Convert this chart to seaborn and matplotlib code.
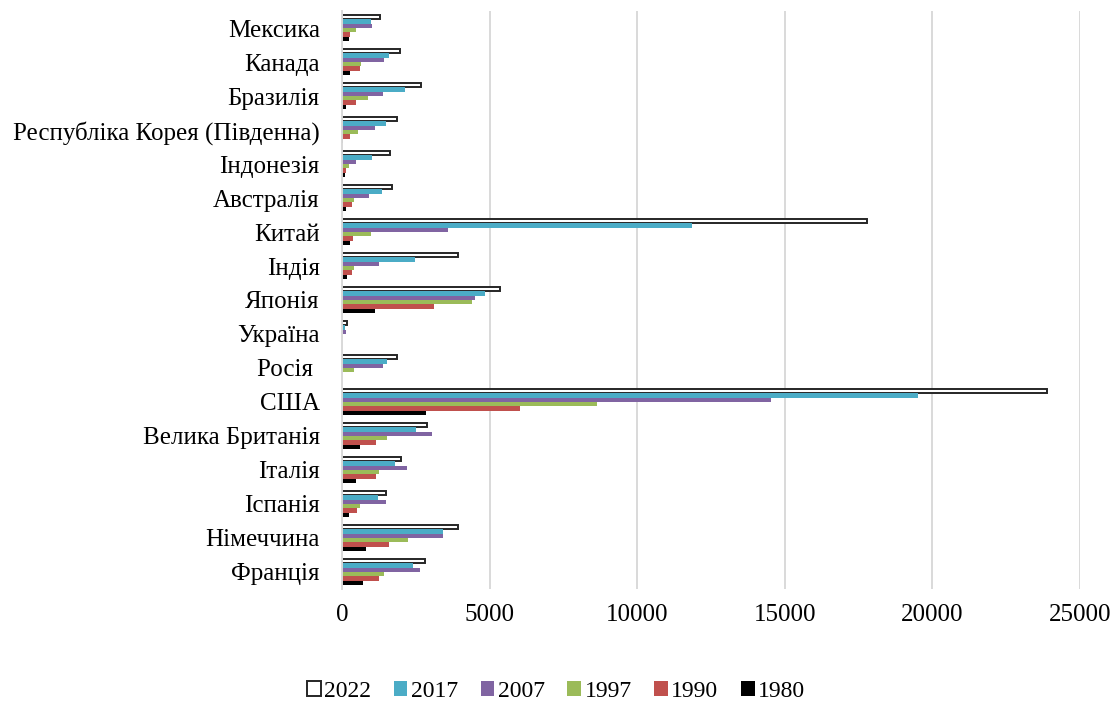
import pandas as pd
import matplotlib.pyplot as plt
import seaborn as sns

# Data ---------------------------------------
countries = ["Мексика", "Канада", "Бразилія", "Республіка Корея (Південна)",
             "Індонезія", "Австралія", "Китай", "Індія", "Японія", "Україна",
             "Росія ", "США", "Велика Британія", "Італія", "Іспанія",
             "Німеччина", "Франція"]
years = ["2022", "2017", "2007", "1997", "1990", "1980"]

v2022 = [1280, 1950, 2680, 1850, 1620, 1710, 17790, 3940, 5370, 180, 1850, 23900, 2870, 1990, 1490, 3930, 2830]
v2017 = [980, 1590, 2140, 1500, 1030, 1350, 11870, 2470, 4830, 90, 1530, 19530, 2510, 1810, 1220, 3430, 2410]
v2007 = [1030, 1440, 1400, 1120, 460, 920, 3580, 1260, 4510, 135, 1400, 14530, 3060, 2190, 1490, 3430, 2650]
v1997 = [460, 650, 890, 560, 240, 420, 980, 420, 4410, 45, 420, 8640, 1530, 1260, 610, 2230, 1440]
v1990 = [280, 610, 470, 280, 150, 330, 380, 330, 3110, 0, 0, 6030, 1160, 1160, 520, 1580, 1260]
v1980 = [240, 280, 140, 45, 100, 140, 280, 180, 1120, 0, 0, 2860, 610, 460, 240, 830, 700]

colors = ["white", "#4BACC6", "#8064A2", "#9BBB59", "#C0504D", "black"]

series = dict(zip(years, [v2022, v2017, v2007, v1997, v1990, v1980]))
rows = []
for year, vals in series.items():
    for country, v in zip(countries, vals):
        rows.append({"country": country, "year": year, "value": v})
df = pd.DataFrame(rows)

sns.set_style("white", {"text.color": "black", "xtick.color": "black",
                        "ytick.color": "black"})
plt.rcParams['font.family'] = ['Liberation Serif', 'DejaVu Serif']

fig = plt.figure(figsize=(11.19, 7.02), dpi=100)
ax = fig.add_axes([0.3056, 0.161, 0.6594, 0.8233])

sns.barplot(data=df, x="value", y="country", hue="year", order=countries,
            hue_order=years, palette=colors, width=0.77, legend=False,
            saturation=1, linewidth=0, ax=ax)

# 2022 bars: white with dark outline
for patch in ax.containers[0]:
    patch.set_edgecolor("#262626")
    patch.set_linewidth(1.4)

ax.set_xlim(0, 25000)
ax.set_ylim(16.5, -0.5)
ax.set_xticks(range(0, 25001, 5000))
ax.grid(axis="x", color="#D9D9D9", linewidth=1.4)
ax.set_axisbelow(True)
for side in ["top", "right", "bottom"]:
    ax.spines[side].set_visible(False)
ax.spines["left"].set_color("#D9D9D9")
ax.spines["left"].set_linewidth(1.4)
ax.tick_params(axis="x", length=0, pad=11, labelsize=18)
ax.tick_params(axis="y", length=0, pad=16, labelsize=18)
ax.set_xlabel("")
ax.set_ylabel("")

fig.legend(ax.containers, years, loc="lower center", bbox_to_anchor=(0.497, -0.03),
           ncol=6, frameon=False, fontsize=17, handlelength=0.58, handleheight=0.58,
           handletextpad=0.15, columnspacing=0.95)

fig.savefig("out.png", dpi=100)
